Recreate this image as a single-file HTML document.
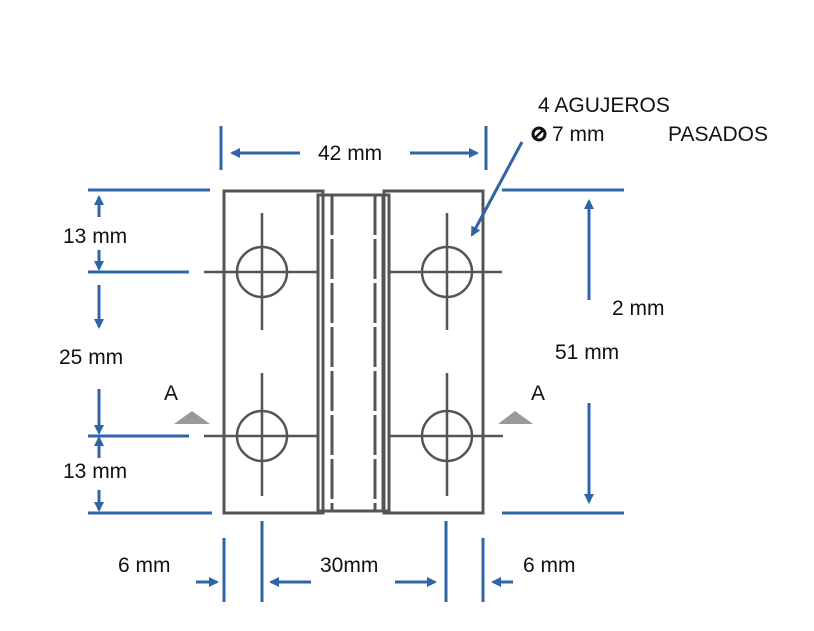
<!DOCTYPE html>
<html><head><meta charset="utf-8"><style>
html,body{margin:0;padding:0;background:#fff;}
svg{display:block;}
text{font-family:"Liberation Sans",sans-serif;font-size:21px;fill:#111;}
</style></head><body>
<svg width="814" height="631" viewBox="0 0 814 631" xmlns="http://www.w3.org/2000/svg">
<defs>
<marker id="ah" markerWidth="10" markerHeight="10" refX="8" refY="5" orient="auto" markerUnits="userSpaceOnUse">
<path d="M0,0 L10,5 L0,10 Z" fill="#2f64a6"/>
</marker>
</defs>
<g stroke="#555" stroke-width="3" fill="none">
<rect x="224" y="191" width="99" height="322"/>
<rect x="384" y="191" width="99" height="322"/>
<rect x="318" y="195" width="71" height="316"/>
<line x1="323" y1="195" x2="323" y2="511"/>
<line x1="383" y1="195" x2="383" y2="511"/>
<line x1="332" y1="195" x2="332" y2="511" stroke-dasharray="40 4 40 4"/>
<line x1="375" y1="195" x2="375" y2="511" stroke-dasharray="40 4 40 4"/>
<line x1="330" y1="511" x2="378" y2="511"/>
</g>
<g stroke="#555" stroke-width="2.5" fill="none">
<circle cx="262" cy="272" r="25"/>
<circle cx="447" cy="272" r="25"/>
<circle cx="262" cy="436" r="25"/>
<circle cx="447" cy="436" r="25"/>
<line x1="262" y1="213" x2="262" y2="330"/>
<line x1="447" y1="213" x2="447" y2="330"/>
<line x1="262" y1="373" x2="262" y2="496"/>
<line x1="447" y1="373" x2="447" y2="496"/>
<line x1="204" y1="272" x2="318" y2="272"/>
<line x1="389" y1="272" x2="502" y2="272"/>
<line x1="204" y1="436" x2="318" y2="436"/>
<line x1="389" y1="436" x2="503" y2="436"/>
</g>
<polygon points="174,424 210,424 192,411" fill="#999"/>
<polygon points="498,424 533,424 515,411" fill="#999"/>
<text x="164" y="400">A</text>
<text x="531" y="400">A</text>
<g stroke="#2f64a6" stroke-width="3" fill="none">
<line x1="221" y1="126" x2="221" y2="170"/>
<line x1="486" y1="126" x2="486" y2="170"/>
<line x1="88" y1="190" x2="210" y2="190"/>
<line x1="88" y1="272" x2="189" y2="272"/>
<line x1="88" y1="436" x2="189" y2="436"/>
<line x1="88" y1="513" x2="212" y2="513"/>
<line x1="502" y1="190" x2="624" y2="190"/>
<line x1="502" y1="513" x2="624" y2="513"/>
<line x1="224" y1="538" x2="224" y2="602"/>
<line x1="262" y1="521" x2="262" y2="602"/>
<line x1="446" y1="521" x2="446" y2="602"/>
<line x1="483" y1="538" x2="483" y2="602"/>
</g>
<g stroke="#2f64a6" stroke-width="3" fill="none" marker-end="url(#ah)">
<line x1="300" y1="153" x2="232" y2="153"/>
<line x1="410" y1="153" x2="477" y2="153"/>
<line x1="99" y1="217" x2="99" y2="197"/>
<line x1="99" y1="250" x2="99" y2="269"/>
<line x1="99" y1="285" x2="99" y2="327"/>
<line x1="99" y1="389" x2="99" y2="433"/>
<line x1="99" y1="458" x2="99" y2="438"/>
<line x1="99" y1="490" x2="99" y2="510"/>
<line x1="589" y1="300" x2="589" y2="201"/>
<line x1="589" y1="403" x2="589" y2="502"/>
<line x1="196" y1="582" x2="217" y2="582"/>
<line x1="311" y1="582" x2="271" y2="582"/>
<line x1="395" y1="582" x2="435" y2="582"/>
<line x1="513" y1="582" x2="493" y2="582"/>
<line x1="522" y1="142" x2="472" y2="235"/>
</g>
<text x="318" y="160">42 mm</text>
<text x="63" y="243">13 mm</text>
<text x="59" y="364">25 mm</text>
<text x="63" y="478">13 mm</text>
<text x="612" y="315">2 mm</text>
<text x="555" y="359">51 mm</text>
<text x="118" y="572">6 mm</text>
<text x="320" y="572">30mm</text>
<text x="523" y="572">6 mm</text>
<text x="538" y="112">4 AGUJEROS</text>
<circle cx="539" cy="134" r="6" fill="none" stroke="#111" stroke-width="3"/>
<line x1="535" y1="138" x2="543" y2="130" stroke="#111" stroke-width="2.5"/>
<text x="552" y="141">7 mm</text>
<text x="668" y="141">PASADOS</text>
</svg>
</body></html>
